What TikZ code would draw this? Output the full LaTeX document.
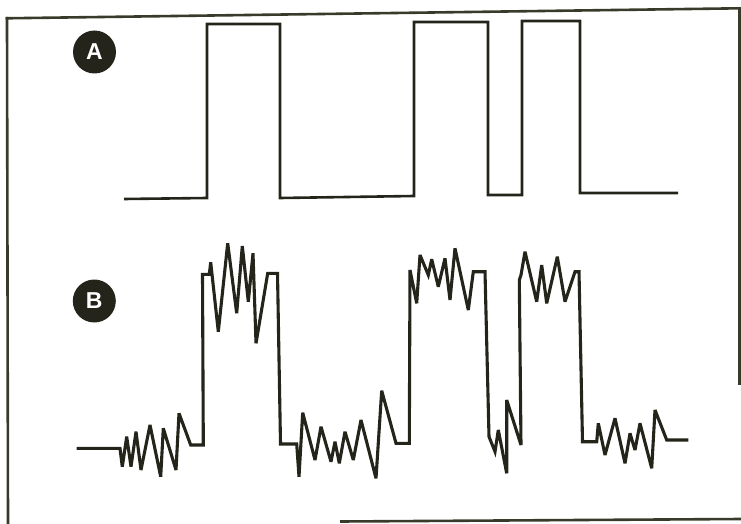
\documentclass[tikz,border=0pt]{standalone}
\usepackage{fontspec}
\setsansfont{Liberation Sans}
\definecolor{ink}{HTML}{24241A}
\definecolor{framec}{HTML}{3A3A2A}
\begin{document}
\begin{tikzpicture}[x=1pt,y=-1pt,
  wave/.style={draw=ink,line width=2.6pt,line join=miter,miter limit=4},
  noisy/.style={wave,line width=3.1pt},
  framel/.style={draw=framec,line width=2.6pt},
  badge/.style={circle,fill=ink,minimum size=43pt,inner sep=0pt,text=white,font=\sffamily\bfseries\fontsize{23}{23}\selectfont}]
\useasboundingbox (0,0) rectangle (741,524);
% frame (as scanned)
\draw[framel] (5.7,18.3) -- (739.6,8.3);
\draw[framel] (7,17) -- (8,524);
\draw[framel] (739.4,7) -- (739.4,385);
\draw[framel] (340,521.5) -- (741,519);
% labels
\node[badge] (A) at (94.5,52) {A};
\node[badge] (B) at (94.3,301) {B};
% waveform A
\draw[wave] (124,199) -- (207,198) -- (207,24) -- (280,24) -- (280,198)
  -- (414,196) -- (414,22) -- (488,22) -- (488,195) -- (522,195) -- (522,21)
  -- (580,21) -- (580,193) -- (678,193);
% waveform B
\draw[noisy] (76.7,448.3) -- (120,448.3) -- (122.3,466.7) -- (126.7,436.7) -- (131,466.7)
  -- (136,431.7) -- (141,470) -- (150,425) -- (160.7,476.7) -- (163.3,428.3)
  -- (176,470) -- (179,413.3) -- (190.7,445) -- (203.3,445)
  -- (202.5,274.3) -- (209.3,274.3) -- (210.7,262.3) -- (218.3,331.7)
  -- (227.7,243.3) -- (236.7,313.3) -- (242.3,246) -- (248.3,301.7)
  -- (253,253.3) -- (256,343.3) -- (267.7,273.3) -- (277.5,273.3)
  -- (280.5,444) -- (296.7,444) -- (299,476.7) -- (302.7,412.7) -- (315,460)
  -- (321,426.7) -- (331,461.7) -- (335,441.7) -- (339.3,463.3) -- (345,431.7)
  -- (353.3,460) -- (361,420) -- (376,478.3) -- (381.7,390.7) -- (396,443.3)
  -- (409.3,443.3) -- (410,270) -- (416.7,303.3) -- (420,255) -- (428.3,275)
  -- (431.7,259.3) -- (438.3,286.7) -- (445,258.3) -- (450,300) -- (455,248.3)
  -- (468.3,310) -- (473.3,271.7) -- (485,271.7)
  -- (489,436.7) -- (495,451.7) -- (498.3,430) -- (506.7,473.3) -- (506.7,400)
  -- (521,445) -- (519.3,280) -- (521,275) -- (525,251.7) -- (536.7,301.7)
  -- (541.7,265) -- (546.7,303.3) -- (557.3,256.7) -- (565,301.7) -- (575,271.7)
  -- (579,271.7) -- (582.5,441.7) -- (596.7,441.7) -- (598.3,423.3) -- (605,455)
  -- (615,418.3) -- (625,463.3) -- (630,433.3) -- (635,450) -- (640,423.3)
  -- (651.7,468.3) -- (655,410) -- (666.7,440) -- (688.3,440);
\end{tikzpicture}
\end{document}
